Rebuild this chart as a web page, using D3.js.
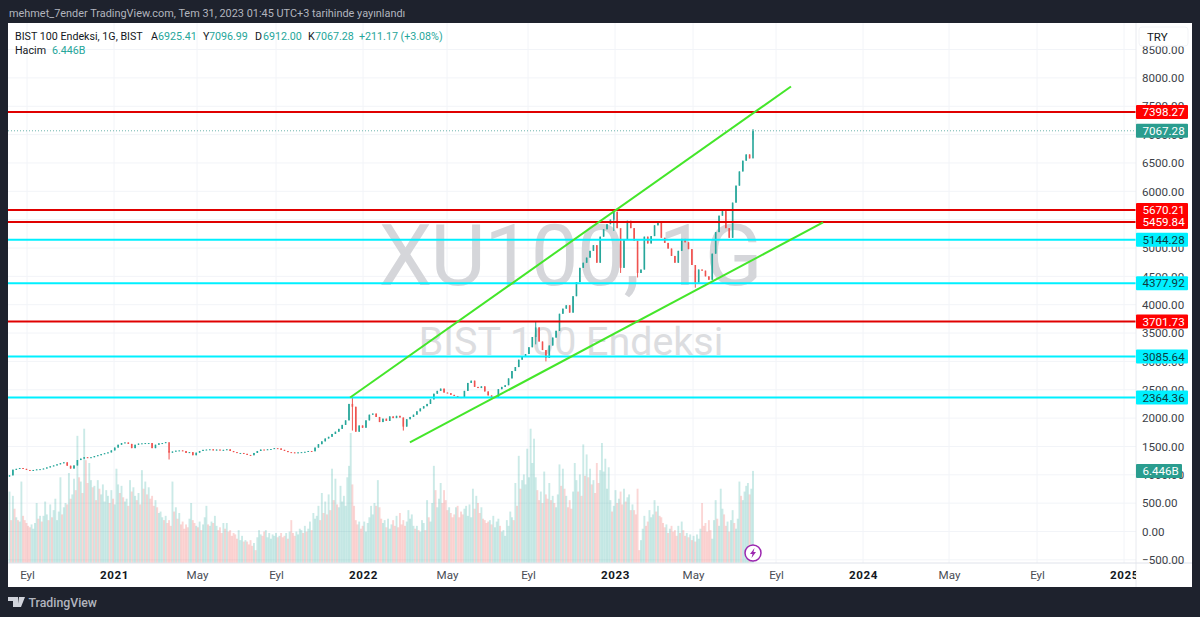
<!DOCTYPE html>
<html><head><meta charset="utf-8">
<script src="https://cdn.jsdelivr.net/npm/d3@7"></script>
<style>html,body{margin:0;padding:0;background:#1e222d}svg{display:block}text{font-family:Roboto,"Noto Sans",sans-serif}</style>
</head><body><svg id="c" width="1200" height="617"></svg>
<script>
const closes=[
990,1090,1105,1120,1105,1085,1075,1085,1095,1100,
1110,1130,1150,1165,1185,1205,1220,1160,1110,1165,
1260,1285,1310,1300,1310,1330,1345,1365,1380,1395,
1430,1480,1530,1560,1570,1545,1470,1530,1550,1555,
1560,1560,1470,1530,1555,1560,1575,1390,1410,1425,
1430,1420,1385,1400,1345,1390,1420,1440,1445,1450,
1430,1445,1430,1440,1450,1420,1400,1385,1385,1370,
1350,1345,1385,1420,1445,1440,1450,1455,1470,1465,
1440,1420,1400,1395,1385,1395,1400,1405,1420,1415,
1480,1540,1590,1640,1670,1720,1760,1810,1880,1960,
2250,2200,1760,1870,1830,1960,2060,2080,2020,1930,
1990,1950,2030,2000,2040,2010,1850,1980,2020,2060,
2120,2170,2210,2250,2330,2430,2480,2520,2450,2440,
2410,2390,2370,2360,2480,2620,2660,2550,2530,2560,
2470,2400,2370,2370,2510,2550,2580,2700,2830,2900,
3030,3080,3130,3250,3430,3600,3350,3200,3060,3280,
3420,3540,3840,3930,3990,3860,4150,4400,4650,4740,
4830,4950,5050,4740,5200,5330,5420,5500,5640,5350,
4650,5150,5480,5350,5130,4560,4620,5200,5080,5210,
5400,5450,5180,5090,4990,4860,4740,4950,5160,5100,
4980,4700,4390,4620,4600,4500,4440,4900,5280,5570,
5650,5350,5180,5800,6100,6350,6540,6650,6580,7067];
const firstOpen=970;
const wickIndex=[47,101,116,155,158,178,180,185,202,219];
const wickHigh=[1420,2364,2010,3700,3200,5670,5100,4800,4600,7097];
const wickLow=[1270,1780,1780,3300,3000,5300,4560,4480,4300,6912];
const volumes=[
5.0,3.0,4.7,3.8,3.2,3.0,2.9,5.7,3.3,3.0,
2.8,2.6,2.5,2.7,2.4,2.8,4.2,3.1,3.3,2.9,
3.3,4.3,3.4,3.0,4.1,3.2,3.7,4.5,3.0,3.6,
6.0,3.4,3.9,4.2,4.1,6.3,4.5,4.8,5.9,5.1,
8.9,6.0,5.7,4.9,9.4,7.2,5.6,7.0,5.8,5.3,
5.4,4.4,5.8,5.2,4.8,5.5,4.3,5.1,4.7,4.2,
5.1,4.5,4.1,6.6,5.5,4.9,5.4,4.6,4.3,4.5,
4.0,5.8,5.0,5.3,4.7,4.4,4.9,4.1,6.5,5.2,
5.7,4.8,5.3,4.5,4.7,4.0,4.4,3.9,3.5,3.6,
3.2,3.0,3.3,2.8,3.0,2.6,5.7,3.6,3.9,3.1,
3.5,2.7,2.9,2.4,2.7,2.5,3.1,4.2,3.0,2.8,
2.6,2.5,2.9,2.3,2.7,3.2,4.0,2.7,2.6,2.9,
2.8,3.3,2.6,2.3,2.5,2.1,2.8,2.4,2.8,2.2,
2.3,1.9,2.1,2.0,1.7,2.3,1.6,1.9,1.5,1.6,
1.5,1.3,1.6,1.2,1.4,0.9,1.8,2.3,2.0,1.9,
2.2,2.3,1.8,2.1,1.7,2.0,1.9,2.1,1.8,1.9,
2.1,1.8,1.9,2.1,1.7,2.2,3.0,2.1,1.9,2.2,
2.0,2.4,2.3,2.1,2.6,2.2,2.4,2.9,2.3,3.5,
3.1,3.3,4.0,3.0,4.9,3.5,4.3,3.4,4.8,3.7,
6.6,4.4,5.9,4.1,3.9,5.4,4.3,4.7,4.0,6.0,
6.8,9.1,5.5,4.0,3.0,2.7,2.9,2.4,2.6,2.9,
2.2,2.8,3.2,4.0,3.4,4.2,4.0,5.8,3.9,3.1,
2.8,3.0,2.5,3.1,2.4,2.7,3.0,2.6,3.3,2.5,
3.5,2.7,3.0,2.6,2.9,3.7,3.1,3.4,2.6,2.4,
2.6,2.3,2.2,3.0,2.8,2.3,4.4,3.2,2.9,4.2,
6.8,5.1,3.9,4.5,5.6,4.2,5.1,4.4,3.7,3.9,
3.5,3.2,3.4,3.9,4.0,3.2,3.6,3.4,3.8,4.0,
3.3,4.1,3.2,5.2,3.8,4.7,4.2,3.5,3.9,3.1,
3.0,2.8,2.9,3.0,2.7,3.3,2.5,2.9,3.1,2.6,
2.2,2.3,1.9,3.0,2.6,3.6,3.2,3.0,5.6,4.0,
7.5,5.2,5.8,6.2,5.5,8.0,6.0,9.4,7.0,8.7,
6.0,5.1,4.4,5.0,4.2,6.4,4.8,4.5,5.6,4.4,
4.7,4.2,3.9,4.8,6.9,5.4,6.6,5.2,4.7,3.9,
4.4,3.8,5.0,7.0,5.8,5.0,6.2,4.7,8.3,6.1,
7.6,6.0,6.6,5.5,5.8,4.9,7.0,5.6,6.5,8.4,
6.4,7.3,5.2,6.7,4.4,3.6,4.0,5.1,4.2,4.5,
5.0,4.1,5.2,4.3,4.6,4.8,3.7,4.1,3.7,3.4,
5.2,0.9,1.6,2.4,3.3,2.6,2.9,3.7,3.2,3.4,
4.4,3.6,4.0,3.3,3.2,2.8,2.5,2.7,2.1,2.4,
2.6,2.2,2.3,1.9,2.6,2.1,2.9,2.3,1.9,2.1,
1.8,2.0,1.6,1.9,1.5,2.0,1.7,2.4,4.2,2.6,
2.8,2.2,3.0,2.3,1.7,3.0,4.4,3.1,2.6,5.2,
3.8,3.4,2.6,2.9,2.2,3.0,3.7,2.8,2.4,3.1,
5.7,4.7,4.4,5.0,5.4,5.6,4.8,5.2,6.446];
const priceTicks=[8500,8000,7500,7000,6500,6000,5500,5000,4500,4000,3500,3000,2500,2000,1500,1000,500,0,-500];
const timeTickDates=["2020-09-01","2021-01-01","2021-05-01","2021-09-01","2022-01-01","2022-05-01","2022-09-01","2023-01-01","2023-05-01","2023-09-01","2024-01-01","2024-05-01","2024-09-01","2025-01-01"];
const timeTickLabels=["Eyl","2021","May","Eyl","2022","May","Eyl","2023","May","Eyl","2024","May","Eyl","2025"];
const levelValues=[7398.27,5670.21,5459.84,5144.28,4377.92,3701.73,3085.64,2364.36];
const levelKinds=["r","r","r","c","c","r","c","c"];
const trendDates=[["2021-12-14","2023-09-22"],["2022-03-09","2023-11-06"]];
const trendValues=[[2363,7848],[1570,5450]];
const lastPrice=7067.28, lastVolume=6.446, lastVolumeLabel="6.446B";

const parse=d3.utcParse("%Y-%m-%d");
const L=8,R=1136,T=23,B=563,W=1192,H=587;
const svg=d3.select("#c");
const y=d3.scaleLinear().domain([0,8000]).range([531.5,531.5-8000*0.0567]);
const xTime=d3.scaleUtc().domain(timeTickDates.map(parse)).range([27,114,197,276,363,447,528,615,693,776,863,949,1037,1124]);
const xBar=d3.scaleLinear().domain([0,closes.length-1]).range([9.5,753]);
const xVol=d3.scaleLinear().domain([0,volumes.length-1]).range([9.5,753]);
const yVol=d3.scaleLinear().domain([0,13]).range([B,B-13/0.07]);
const UP="#26a69a",DN="#ef5350",RED="#ff0000",CY="#00f0ff";

svg.append("rect").attr("width",1200).attr("height",617).attr("fill","#1e222d");
svg.append("rect").attr("x",L).attr("y",T).attr("width",W-L).attr("height",H-T).attr("fill","#fff");
svg.append("text").attr("x",9).attr("y",17).attr("fill","#b2b5be").attr("font-size",10.9)
 .text("mehmet_7ender TradingView.com, Tem 31, 2023 01:45 UTC+3 tarihinde yayınlandı");

const defs=svg.append("defs");
defs.append("clipPath").attr("id","pane").append("rect").attr("x",L).attr("y",T).attr("width",R-L).attr("height",B-T);
defs.append("clipPath").attr("id","ta").append("rect").attr("x",L).attr("y",B).attr("width",R-L).attr("height",H-B);
defs.append("clipPath").attr("id","pa").append("rect").attr("x",R).attr("y",T).attr("width",W-R).attr("height",B-T+6);

const pane=svg.append("g").attr("clip-path","url(#pane)");
pane.selectAll(".gh").data(priceTicks).join("line").attr("x1",L).attr("x2",R).attr("y1",d=>y(d)).attr("y2",d=>y(d)).attr("stroke","#f2f4f8");
pane.selectAll(".gv").data(timeTickDates).join("line").attr("y1",T).attr("y2",B).attr("x1",d=>xTime(parse(d))).attr("x2",d=>xTime(parse(d))).attr("stroke","#f2f4f8");

pane.append("text").attr("x",570).attr("y",285).attr("text-anchor","middle").attr("font-size",85).attr("letter-spacing",-1.4).attr("fill","#d5d6da").text("XU100, 1G");
pane.append("text").attr("x",571).attr("y",355).attr("text-anchor","middle").attr("font-size",39.4).attr("fill","#dcdde0").text("BIST 100 Endeksi");

const opens=closes.map((c,i)=>i?closes[i-1]:firstOpen);
pane.selectAll(".v").data(volumes).join("rect")
 .attr("x",(d,i)=>xVol(i)-0.95).attr("width",1.9).attr("y",d=>yVol(d)).attr("height",d=>B-yVol(d))
 .attr("fill",(d,i)=>{const k=Math.floor(i/2);const up=closes[k]>=opens[k];return (i%2?volumes[i]>volumes[i-1]:up)?UP:DN}).attr("fill-opacity",.24);

pane.selectAll(".w").data(closes).join("line")
 .attr("x1",(d,i)=>xBar(i)).attr("x2",(d,i)=>xBar(i))
 .attr("y1",(d,i)=>{const j=wickIndex.indexOf(i);return y(j>=0?wickHigh[j]:Math.max(d,opens[i]))})
 .attr("y2",(d,i)=>{const j=wickIndex.indexOf(i);return y(j>=0?wickLow[j]:Math.min(d,opens[i]))})
 .attr("stroke",(d,i)=>d>=opens[i]?UP:DN).attr("stroke-width",1);
pane.selectAll(".b").data(closes).join("rect")
 .attr("x",(d,i)=>xBar(i)-0.8).attr("width",1.6)
 .attr("y",(d,i)=>y(Math.max(d,opens[i]))).attr("height",(d,i)=>Math.max(1,Math.abs(y(d)-y(opens[i]))))
 .attr("fill",(d,i)=>d>=opens[i]?UP:DN);

pane.append("line").attr("x1",L).attr("x2",R).attr("y1",y(lastPrice)).attr("y2",y(lastPrice)).attr("stroke","#6fb6ae").attr("stroke-dasharray","1 2");
pane.selectAll(".lv").data(levelValues).join("line").attr("x1",L).attr("x2",R).attr("y1",d=>y(d)).attr("y2",d=>y(d))
 .attr("stroke",(d,i)=>levelKinds[i]==="r"?"#e00000":CY).attr("stroke-width",2);
pane.selectAll(".tr").data(trendDates).join("line")
 .attr("x1",d=>xTime(parse(d[0]))).attr("x2",d=>xTime(parse(d[1])))
 .attr("y1",(d,i)=>y(trendValues[i][0])).attr("y2",(d,i)=>y(trendValues[i][1]))
 .attr("stroke","#44e62a").attr("stroke-width",2);

const mk=pane.append("g").attr("transform",`translate(${xBar(closes.length-1)},553)`);
mk.append("circle").attr("r",8).attr("fill","#fff").attr("stroke","#9c27b0").attr("stroke-width",1.5);
mk.append("path").attr("d","M1.5,-5 L-3,1 L-0.5,1 L-1.5,5 L3,-1 L0.5,-1 Z").attr("fill","#9c27b0");

// axes
svg.append("line").attr("x1",R).attr("x2",R).attr("y1",T).attr("y2",H).attr("stroke","#e8eaef");
svg.append("line").attr("x1",L).attr("x2",W).attr("y1",B).attr("y2",B).attr("stroke","#e0e3eb");

const gy=svg.append("g").attr("clip-path","url(#pa)").append("g").attr("transform",`translate(${R},0)`)
 .call(d3.axisRight(y).tickValues(priceTicks).tickSize(0).tickPadding(6).tickFormat(d=>(d<0?"−":"")+Math.abs(d).toFixed(2)));
gy.select(".domain").remove();
gy.selectAll("text").attr("font-size",11.6).attr("fill","#3c3f48").attr("font-family","Roboto,sans-serif");

const gx=svg.append("g").attr("clip-path","url(#ta)").append("g").attr("transform",`translate(0,${B})`)
 .call(d3.axisBottom(xTime).tickValues(timeTickDates.map(parse)).tickSize(0).tickPadding(8).tickFormat((d,i)=>timeTickLabels[i]));
gx.select(".domain").remove();
gx.selectAll("text").attr("font-size",11.6).attr("font-family","Roboto,sans-serif").attr("fill",(d,i)=>/^20/.test(timeTickLabels[i])?"#131722":"#4a4d55")
 .attr("font-weight",(d,i)=>/^20/.test(timeTickLabels[i])?700:400).attr("letter-spacing",(d,i)=>/^20/.test(timeTickLabels[i])?.6:0);

function badge(c,fill,tc,txt,w){
 svg.append("rect").attr("x",R).attr("y",c-7).attr("width",w).attr("height",14).attr("rx",1).attr("fill",fill);
 svg.append("text").attr("x",R+6.5).attr("y",c+4.2).attr("font-size",11.6).attr("fill",tc).text(txt);}
levelValues.forEach((v,i)=>{ if(levelKinds[i]==="r") badge(y(v),RED,"#fff",v.toFixed(2),52); else badge(y(v),"#00f0ff","#0d3b40",v.toFixed(2),52);});
badge(y(lastPrice),"#2a9d8f","#fff",lastPrice.toFixed(2),52);
badge(yVol(lastVolume),"#2a9d8f","#fff",lastVolumeLabel,46);

svg.append("rect").attr("x",1139).attr("y",27).attr("width",49).attr("height",19).attr("rx",3).attr("fill","#fff").attr("stroke","#f3f4f7");
svg.append("text").attr("x",1147).attr("y",41).attr("font-size",11.5).attr("fill","#131722").text("TRY");

// legend
const leg=[["BIST 100 Endeksi, 1G, BIST",15,"#131722"],["A",151,"#131722"],["6925.41",158,UP],["Y",203,"#131722"],["7096.99",209,UP],["D",255,"#131722"],["6912.00",263,UP],["K",308,"#131722"],["7067.28",315,UP],["+211.17 (+3.08%)",359,UP]];
leg.forEach(d=>svg.append("text").attr("x",d[1]).attr("y",40).attr("font-size",10.7).attr("fill",d[2]).text(d[0]));
svg.append("text").attr("x",15).attr("y",54).attr("font-size",10.7).attr("fill","#131722").text("Hacim");
svg.append("text").attr("x",52).attr("y",54).attr("font-size",10.7).attr("fill",UP).text(lastVolumeLabel);

// footer
svg.append("path").attr("d","M8,597 H18 V607 H13 V601 H8 Z M19,597 H25 L21,607 H17.5 Z").attr("fill","#d1d4dc");
svg.append("text").attr("x",28.5).attr("y",607).attr("font-size",12.3).attr("font-weight",500).attr("fill","#b2b5be").text("TradingView");
</script></body></html>
